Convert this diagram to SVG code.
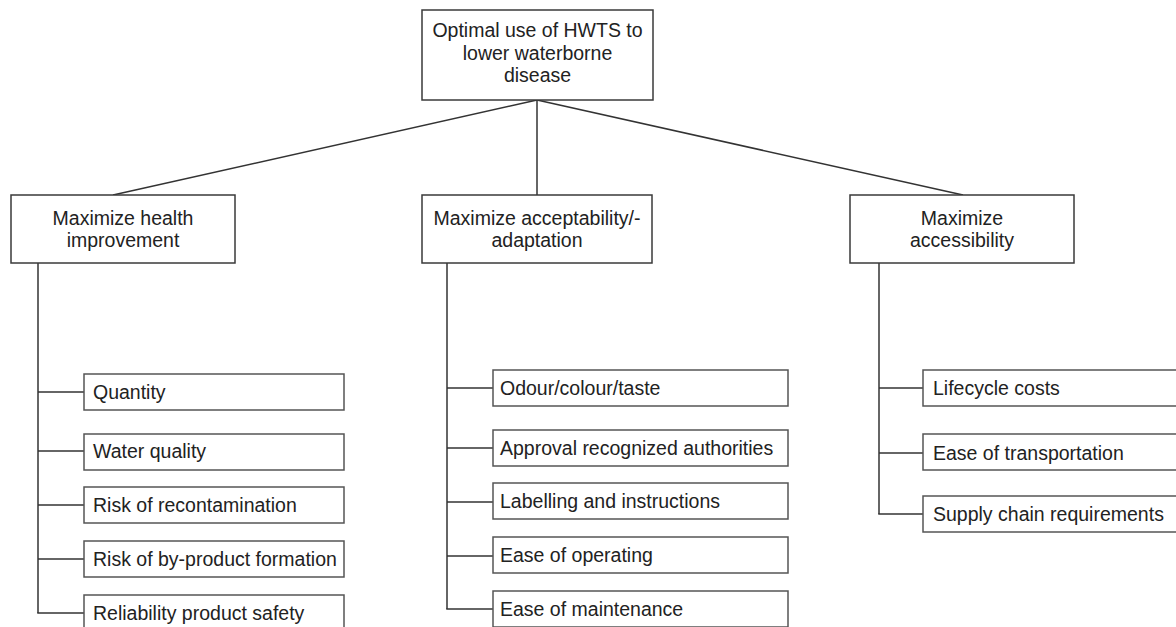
<svg xmlns="http://www.w3.org/2000/svg" width="1176" height="627" viewBox="0 0 1176 627">
  <style>
    .box { fill: #ffffff; stroke: #3a3a3a; stroke-width: 1.5; }
    .leaf { fill: #ffffff; stroke: #555555; stroke-width: 1.5; }
    .lbl { font-family: "Liberation Sans", Arial, sans-serif; font-size: 19.5px; fill: #222222; }
    .mid { text-anchor: middle; }
    .conn line, .conn polyline { stroke: #333333; stroke-width: 1.5; fill: none; }
  </style>
  <rect width="1176" height="627" fill="#ffffff"/>

  <!-- connectors -->
  <g id="connectors" class="conn">
    <line x1="537" y1="100" x2="113" y2="195"/>
    <line x1="537" y1="100" x2="537" y2="195"/>
    <line x1="537" y1="100" x2="963" y2="195"/>

    <!-- health branch -->
    <line x1="38" y1="263" x2="38" y2="613"/>
    <line x1="38" y1="392" x2="84" y2="392"/>
    <line x1="38" y1="451" x2="84" y2="451"/>
    <line x1="38" y1="505" x2="84" y2="505"/>
    <line x1="38" y1="559" x2="84" y2="559"/>
    <line x1="37.25" y1="613" x2="84" y2="613"/>

    <!-- acceptability branch -->
    <line x1="447" y1="263" x2="447" y2="609"/>
    <line x1="447" y1="388" x2="493" y2="388"/>
    <line x1="447" y1="448" x2="493" y2="448"/>
    <line x1="447" y1="502" x2="493" y2="502"/>
    <line x1="447" y1="556" x2="493" y2="556"/>
    <line x1="446.25" y1="609" x2="493" y2="609"/>

    <!-- accessibility branch -->
    <line x1="879" y1="263" x2="879" y2="514"/>
    <line x1="879" y1="388" x2="923" y2="388"/>
    <line x1="879" y1="453" x2="923" y2="453"/>
    <line x1="878.25" y1="514" x2="923" y2="514"/>
  </g>

  <!-- goal -->
  <g id="goal">
    <rect class="box" x="422" y="10" width="231" height="90"/>
    <text class="lbl mid" x="537.5" y="37">Optimal use of HWTS to</text>
    <text class="lbl mid" x="537.5" y="60">lower waterborne</text>
    <text class="lbl mid" x="537.5" y="82">disease</text>
  </g>

  <!-- objectives -->
  <g id="obj-health">
    <rect class="box" x="11" y="195" width="224" height="68"/>
    <text class="lbl mid" x="123" y="225">Maximize health</text>
    <text class="lbl mid" x="123" y="247">improvement</text>
  </g>
  <g id="obj-acceptability">
    <rect class="box" x="422" y="195" width="230" height="68"/>
    <text class="lbl mid" x="537" y="225">Maximize acceptability/-</text>
    <text class="lbl mid" x="537" y="247">adaptation</text>
  </g>
  <g id="obj-accessibility">
    <rect class="box" x="850" y="195" width="224" height="68"/>
    <text class="lbl mid" x="962" y="225">Maximize</text>
    <text class="lbl mid" x="962" y="247">accessibility</text>
  </g>

  <!-- health criteria -->
  <g id="c-quantity">
    <rect class="leaf" x="84" y="374" width="260" height="36"/>
    <text class="lbl" x="93" y="399">Quantity</text>
  </g>
  <g id="c-water-quality">
    <rect class="leaf" x="84" y="434" width="260" height="36"/>
    <text class="lbl" x="93" y="458">Water quality</text>
  </g>
  <g id="c-recontamination">
    <rect class="leaf" x="84" y="487" width="260" height="36"/>
    <text class="lbl" x="93" y="512">Risk of recontamination</text>
  </g>
  <g id="c-byproduct">
    <rect class="leaf" x="84" y="541" width="260" height="36"/>
    <text class="lbl" x="93" y="566">Risk of by-product formation</text>
  </g>
  <g id="c-reliability">
    <rect class="leaf" x="84" y="595" width="260" height="36"/>
    <text class="lbl" x="93" y="620">Reliability product safety</text>
  </g>

  <!-- acceptability criteria -->
  <g id="c-odour">
    <rect class="leaf" x="493" y="370" width="295" height="36"/>
    <text class="lbl" x="500" y="395">Odour/colour/taste</text>
  </g>
  <g id="c-approval">
    <rect class="leaf" x="493" y="430" width="295" height="36"/>
    <text class="lbl" x="500" y="455">Approval recognized authorities</text>
  </g>
  <g id="c-labelling">
    <rect class="leaf" x="493" y="483" width="295" height="36"/>
    <text class="lbl" x="500" y="508">Labelling and instructions</text>
  </g>
  <g id="c-operating">
    <rect class="leaf" x="493" y="537" width="295" height="36"/>
    <text class="lbl" x="500" y="562">Ease of operating</text>
  </g>
  <g id="c-maintenance">
    <rect class="leaf" x="493" y="591" width="295" height="36"/>
    <text class="lbl" x="500" y="616">Ease of maintenance</text>
  </g>

  <!-- accessibility criteria -->
  <g id="c-lifecycle">
    <rect class="leaf" x="923" y="370" width="270" height="36"/>
    <text class="lbl" x="933" y="395">Lifecycle costs</text>
  </g>
  <g id="c-transport">
    <rect class="leaf" x="923" y="434" width="270" height="36"/>
    <text class="lbl" x="933" y="460">Ease of transportation</text>
  </g>
  <g id="c-supply">
    <rect class="leaf" x="923" y="496" width="270" height="36"/>
    <text class="lbl" x="933" y="521">Supply chain requirements</text>
  </g>
</svg>
